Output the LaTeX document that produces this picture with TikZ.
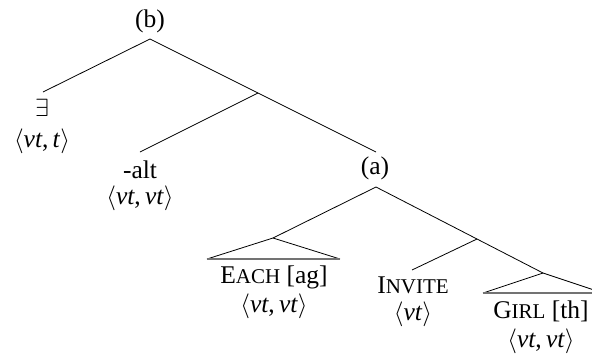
\documentclass[tikz,border=0pt]{standalone}
\usepackage{fontspec}
\setmainfont{Liberation Serif}
\newcommand\fsc[2]{#1{\fontsize{21pt}{22pt}\selectfont #2}}
\newcommand\typ[1]{$\langle$#1$\rangle$}
\newcommand\vt{\textit{vt}}
\begin{document}
\begin{tikzpicture}[x=1pt,y=-1pt,
  lbl/.style={inner sep=0pt,font=\fontsize{25.5pt}{27pt}\selectfont},
  branch/.style={line width=0.8pt,black},
  tribase/.style={line width=1.7pt,black!55}]
\useasboundingbox (0,0) rectangle (592,357);
\clip (0,0) rectangle (592,357);
% tree points
\coordinate (rb) at (150,39);
\coordinate (ex) at (43,92);
\coordinate (n1) at (258,93);
\coordinate (al) at (140,152);
\coordinate (ae) at (376,152);
\coordinate (ra) at (376,187);
\coordinate (ea) at (273,238);
\coordinate (n2) at (477,239);
\coordinate (inv) at (412,270);
\coordinate (gi) at (543,273);
\coordinate (eal) at (207,259);
\coordinate (ear) at (340,259);
\coordinate (gil) at (483,293);
\coordinate (gir) at (603,293);
% labels
\node[lbl] (lb) at (150,21) {(b)};
\node[lbl] (lex) at (42,108) {$\exists$};
\node[lbl] (tex) at (42,141) {\typ{\vt,\,\textit{t}}};
\node[lbl] (lal) at (140,170) {-alt};
\node[lbl] (tal) at (140,198) {\typ{\vt,\,\vt}};
\node[lbl] (la) at (375,168) {(a)};
\node[lbl] (lea) at (274,277) {\fsc{E}{ACH} [ag]};
\node[lbl] (tea) at (274,306) {\typ{\vt,\,\vt}};
\node[lbl] (linv) at (413,285) {\fsc{I}{NVITE}};
\node[lbl] (tinv) at (413,314) {\typ{\vt}};
\node[lbl] (lgi) at (541,311) {\fsc{G}{IRL} [th]};
\node[lbl] (tgi) at (541,341) {\typ{\vt,\,\vt}};
% branches
\draw[branch] (ex) -- (rb) -- (ae);
\draw[branch] (n1) -- (al);
\draw[branch] (ea) -- (ra) -- (gi);
\draw[branch] (n2) -- (inv);
% triangles
\draw[branch] (eal) -- (ea) -- (ear);
\draw[tribase] (eal) -- (ear);
\draw[branch] (gil) -- (gi) -- (gir);
\draw[tribase] (gil) -- (gir);
\end{tikzpicture}
\end{document}
